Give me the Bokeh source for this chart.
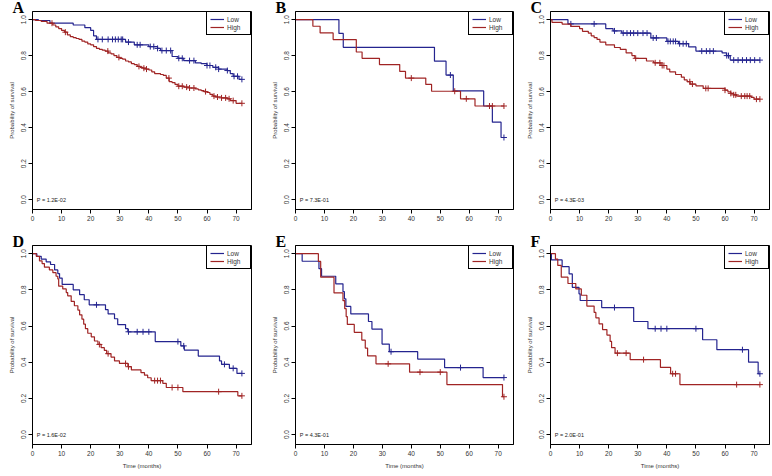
from bokeh.plotting import figure
from bokeh.layouts import row, column
from bokeh.models import Label, Legend, LegendItem, FixedTicker, PrintfTickFormatter, Range1d, Title
from bokeh.embed import file_html
from bokeh.resources import INLINE

# ---------------- data ----------------
panel_letters = ["A", "B", "C", "D", "E", "F"]
p_texts = ["P = 1.2E-02", "P = 7.3E-01", "P = 4.3E-03", "P = 1.6E-02", "P = 4.3E-01", "P = 2.0E-01"]
group_labels = ["Low", "High"]
x_ticks = [0, 10, 20, 30, 40, 50, 60, 70]
y_ticks = [0.0, 0.2, 0.4, 0.6, 0.8, 1.0]
x_title = "Time (months)"
y_title = "Probability of survival"

# Panel A
A_low_t = [2, 6, 14, 18, 20, 21, 22, 32, 35, 40, 43, 44, 48, 50, 52, 56, 58, 60, 62, 64, 67, 68, 69, 71]
A_low_s = [0.995, 0.98, 0.97, 0.955, 0.94, 0.91, 0.89, 0.875, 0.86, 0.85, 0.84, 0.828, 0.795, 0.785, 0.772,
           0.76, 0.755, 0.745, 0.735, 0.725, 0.717, 0.70, 0.685, 0.668]
A_low_c = [22.5, 24, 26, 27.5, 28.5, 29.5, 30.5, 31, 33, 36, 37, 40.5, 41.7, 43, 44.5, 46, 47.5, 50.3, 51.5,
           54, 55.5, 60, 61, 63, 64, 67, 69.3, 70.5, 72]
A_high_t = [1, 3, 5, 7, 8, 9, 10, 11, 12, 13, 14, 15, 16, 17, 18, 19, 20, 21, 22, 23, 24, 25, 26, 27, 28, 29, 30,
            31, 32, 33, 34, 35, 36, 37, 38, 39, 40, 41, 42, 44, 45, 46, 47, 48, 49, 50, 52, 54, 56, 57, 58, 59,
            60, 61, 62, 63, 65, 67, 68, 70]
A_high_s = [0.995, 0.99, 0.98, 0.97, 0.96, 0.95, 0.94, 0.93, 0.915, 0.905, 0.90, 0.895, 0.89, 0.88, 0.875,
            0.865, 0.86, 0.85, 0.84, 0.835, 0.83, 0.825, 0.815, 0.81, 0.80, 0.79, 0.785, 0.78, 0.77, 0.765,
            0.755, 0.75, 0.74, 0.735, 0.73, 0.725, 0.72, 0.71, 0.70, 0.695, 0.69, 0.675, 0.655, 0.65, 0.64,
            0.63, 0.625, 0.62, 0.615, 0.61, 0.605, 0.60, 0.595, 0.585, 0.575, 0.57, 0.565, 0.56, 0.55, 0.535]
A_high_c = [6.7, 11.3, 25.9, 29.7, 36.6, 38.3, 39.2, 46.9, 50.3, 51.5, 53, 54, 55.5, 59.5, 62.4, 63.6, 65,
            66.4, 67.6, 69, 72]

# Panel B
B_low_t = [15, 16.5, 48, 52, 54.5, 65, 68, 71]
B_low_s = [0.923, 0.846, 0.769, 0.692, 0.604, 0.52, 0.43, 0.345]
B_low_c = [53.5, 72]
B_high_t = [6, 8.5, 13, 21, 23, 29, 36, 38, 45, 47, 57, 62]
B_high_s = [0.963, 0.926, 0.889, 0.82, 0.785, 0.75, 0.712, 0.675, 0.64, 0.602, 0.56, 0.52]
B_high_c = [40, 55, 59, 67, 68, 72]

# Panel C
C_low_t = [6, 19, 21.5, 24.5, 34.5, 40, 44, 47.5, 50, 59, 60.5, 61.8]
C_low_s = [0.976, 0.95, 0.937, 0.925, 0.898, 0.879, 0.866, 0.848, 0.825, 0.815, 0.80, 0.775]
C_low_c = [7, 15, 22, 25, 26.3, 27.5, 28.6, 30, 31.8, 33.2, 35.3, 36.4, 40.4, 41.2, 42.2, 43, 44.4, 45.6,
           46.7, 52, 53.6, 54.8, 56, 60.6, 61.2, 63, 64.5, 66, 67.4, 68.7, 70.2, 72]
C_high_t = [0.5, 4, 7, 10, 11, 13, 14, 15, 16, 17, 19, 22, 24, 26, 28, 29, 33, 35.5, 38, 40, 41, 43, 45, 46,
            47, 48, 50, 52.5, 60, 61, 62, 63, 64, 69, 70]
C_high_s = [0.985, 0.975, 0.962, 0.95, 0.935, 0.925, 0.91, 0.90, 0.89, 0.875, 0.86, 0.845, 0.835, 0.815, 0.80,
            0.785, 0.77, 0.76, 0.745, 0.725, 0.71, 0.695, 0.68, 0.665, 0.655, 0.642, 0.632, 0.618, 0.608,
            0.598, 0.59, 0.582, 0.575, 0.568, 0.558]
C_high_c = [29.3, 36, 37.6, 38.4, 39, 47.9, 48.8, 53.4, 54.2, 60, 62, 63, 63.7, 65.6, 66.8, 67.6, 68.5, 70.8, 72]

# Panel D
D_low_t = [1.5, 3, 4.7, 6.2, 7.6, 8.7, 9.3, 10.2, 14, 16.2, 17.8, 19.5, 25.1, 26, 28.2, 29.3, 32, 32.8, 42.2,
           51, 52.2, 57, 64.3, 65, 67.7, 70.3]
D_low_s = [0.985, 0.97, 0.955, 0.94, 0.91, 0.89, 0.865, 0.83, 0.80, 0.773, 0.745, 0.717, 0.69, 0.667, 0.64,
           0.608, 0.585, 0.568, 0.514, 0.49, 0.467, 0.434, 0.407, 0.388, 0.366, 0.338]
D_low_c = [22, 33, 36, 38, 40, 50, 52, 66, 69, 72]
D_high_t = [1.3, 2.4, 3.3, 4.1, 5.8, 7, 8.1, 8.7, 9, 10.4, 11.6, 12.1, 13.3, 14.4, 15.6, 16.2, 17, 17.6, 18.2,
            19, 20.2, 21.3, 22.5, 23.6, 24.7, 25.5, 27, 28.2, 29.9, 32.8, 34, 37.3, 38.5, 39.6, 40.8, 44.8,
            46, 51.7, 70.6]
D_high_s = [0.985, 0.96, 0.945, 0.925, 0.91, 0.895, 0.875, 0.86, 0.82, 0.805, 0.785, 0.767, 0.736, 0.712,
            0.688, 0.662, 0.638, 0.61, 0.585, 0.56, 0.54, 0.517, 0.498, 0.48, 0.465, 0.447, 0.428, 0.407,
            0.393, 0.375, 0.357, 0.342, 0.328, 0.314, 0.298, 0.283, 0.26, 0.237, 0.214]
D_high_c = [23, 26, 32, 33, 42, 43, 44, 48, 50, 64, 72]

# Panel E
E_low_t = [2.3, 8.1, 9, 13.9, 16.4, 16.9, 17.4, 19.1, 25.2, 26.4, 29.9, 32.4, 42.2, 51.5, 64.8]
E_low_s = [0.958, 0.917, 0.875, 0.833, 0.79, 0.75, 0.708, 0.667, 0.625, 0.583, 0.50, 0.458, 0.417, 0.37, 0.315]
E_low_c = [33, 57, 72]
E_high_t = [7.9, 8.7, 13.3, 16.4, 17.0, 17.5, 17.9, 20.3, 22.9, 24.1, 24.9, 27.8, 39.4, 52.3, 71.5]
E_high_s = [0.957, 0.87, 0.783, 0.74, 0.696, 0.652, 0.609, 0.565, 0.522, 0.478, 0.435, 0.391, 0.345, 0.276, 0.209]
E_high_c = [32, 43, 50, 72]

# Panel F
F_low_t = [0.3, 4, 6.4, 7.5, 9.8, 10.2, 17.6, 28.6, 33.5, 52.3, 57.2, 68.1, 71.4]
F_low_s = [0.965, 0.928, 0.888, 0.814, 0.778, 0.741, 0.702, 0.625, 0.585, 0.524, 0.469, 0.40, 0.336]
F_low_c = [22, 36, 38, 40, 50, 66, 72]
F_high_t = [1.7, 2.5, 3.7, 6, 8.7, 10.6, 12.5, 15, 15.6, 16.7, 17.9, 19.4, 20.5, 21, 22.2, 27.4, 37.8, 41.3, 44.5]
F_high_s = [0.97, 0.935, 0.87, 0.835, 0.805, 0.77, 0.71, 0.675, 0.645, 0.612, 0.58, 0.55, 0.515, 0.48, 0.45,
            0.414, 0.371, 0.336, 0.276]
F_high_c = [23, 26, 32, 42, 43, 64, 72]

panels = [
    ((A_low_t, A_low_s, A_low_c), (A_high_t, A_high_s, A_high_c)),
    ((B_low_t, B_low_s, B_low_c), (B_high_t, B_high_s, B_high_c)),
    ((C_low_t, C_low_s, C_low_c), (C_high_t, C_high_s, C_high_c)),
    ((D_low_t, D_low_s, D_low_c), (D_high_t, D_high_s, D_high_c)),
    ((E_low_t, E_low_s, E_low_c), (E_high_t, E_high_s, E_high_c)),
    ((F_low_t, F_low_s, F_low_c), (F_high_t, F_high_s, F_high_c)),
]

# ---------------- styling ----------------
COL_LOW = "#24248f"
COL_HIGH = "#a02424"
TXT = "#333333"
SANS = "Liberation Sans"


def step_xy(t, s, end):
    xs, ys = [0.0], [1.0]
    for ti, si in zip(t, s):
        xs += [ti, ti]
        ys += [ys[-1], si]
    xs.append(end)
    ys.append(ys[-1])
    return xs, ys


def surv_at(t, s, c):
    out = []
    for ci in c:
        v = 1.0
        for ti, si in zip(t, s):
            if ti <= ci:
                v = si
        out.append(v)
    return out


def make_panel(i, width, left, right, height, bottom, with_xlabel):
    p = figure(width=width, height=height, x_range=Range1d(0, 75.3), y_range=Range1d(-0.055, 1.045),
               output_backend="svg", toolbar_location=None,
               min_border_left=left, min_border_right=right, min_border_top=5, min_border_bottom=bottom)
    p.grid.visible = False
    p.outline_line_color = "black"
    p.outline_line_width = 1
    p.outline_line_alpha = 1
    p.background_fill_color = "white"
    p.border_fill_color = "white"

    for ax in (p.xaxis[0], p.yaxis[0]):
        ax.axis_line_color = "black"
        ax.major_tick_line_color = "black"
        ax.major_tick_out = 4
        ax.major_tick_in = 0
        ax.minor_tick_line_color = None
        ax.major_label_text_font = SANS
        ax.major_label_text_font_size = "6.5px"
        ax.major_label_text_color = TXT
        ax.major_label_standoff = 2
        ax.axis_label_text_font = SANS
        ax.axis_label_text_font_size = "6px"
        ax.axis_label_text_font_style = "normal"
        ax.axis_label_text_color = TXT
    p.xaxis.ticker = FixedTicker(ticks=x_ticks)
    p.yaxis.ticker = FixedTicker(ticks=y_ticks)
    p.yaxis.formatter = PrintfTickFormatter(format="%.1f")
    p.yaxis.major_label_orientation = "vertical"
    p.yaxis.axis_label = y_title
    p.yaxis.axis_label_standoff = 4
    if with_xlabel:
        p.xaxis.axis_label = x_title
        p.xaxis.axis_label_standoff = 4

    renderers = []
    for (t, s, c), col in zip(panels[i], (COL_LOW, COL_HIGH)):
        end = max(list(c) + list(t))
        xs, ys = step_xy(t, s, end)
        r = p.line(xs, ys, line_color=col, line_width=1.2)
        p.scatter(c, surv_at(t, s, c), marker="cross", size=6, line_color=col, line_width=1)
        renderers.append(r)

    legend = Legend(items=[LegendItem(label=group_labels[0], renderers=[renderers[0]]),
                           LegendItem(label=group_labels[1], renderers=[renderers[1]])],
                    location="top_right")
    legend.margin = 0
    legend.padding = 3
    legend.spacing = 0
    legend.border_line_color = "black"
    legend.border_line_width = 1
    legend.border_line_alpha = 1
    legend.background_fill_color = "white"
    legend.background_fill_alpha = 1
    legend.label_text_font = SANS
    legend.label_text_font_size = "6.5px"
    legend.label_text_color = TXT
    legend.glyph_width = 14
    legend.glyph_height = 8
    legend.label_height = 8
    legend.label_standoff = 3
    p.add_layout(legend)

    p.add_layout(Label(x=1.5, y=0.0, text=p_texts[i], text_font=SANS, text_font_size="5.5px",
                       text_color="#222222", text_baseline="middle", text_align="left"))
    p.add_layout(Title(text=panel_letters[i], align="left", offset=-20, standoff=-8,
                       text_font="Liberation Serif", text_font_style="bold", text_font_size="16px",
                       text_color="black"), "above")
    return p


widths = [265, 255, 251]
lefts = [32, 30, 30]
rights = [14, 7, 2]
top_row = [make_panel(k, widths[k], lefts[k], rights[k], 234, 25, False) for k in range(3)]
bot_row = [make_panel(k + 3, widths[k], lefts[k], rights[k], 241, 31, True) for k in range(3)]

layout = column(row(*top_row, spacing=0), row(*bot_row, spacing=0), spacing=0)

open("out.html", "w").write(file_html(layout, INLINE))
